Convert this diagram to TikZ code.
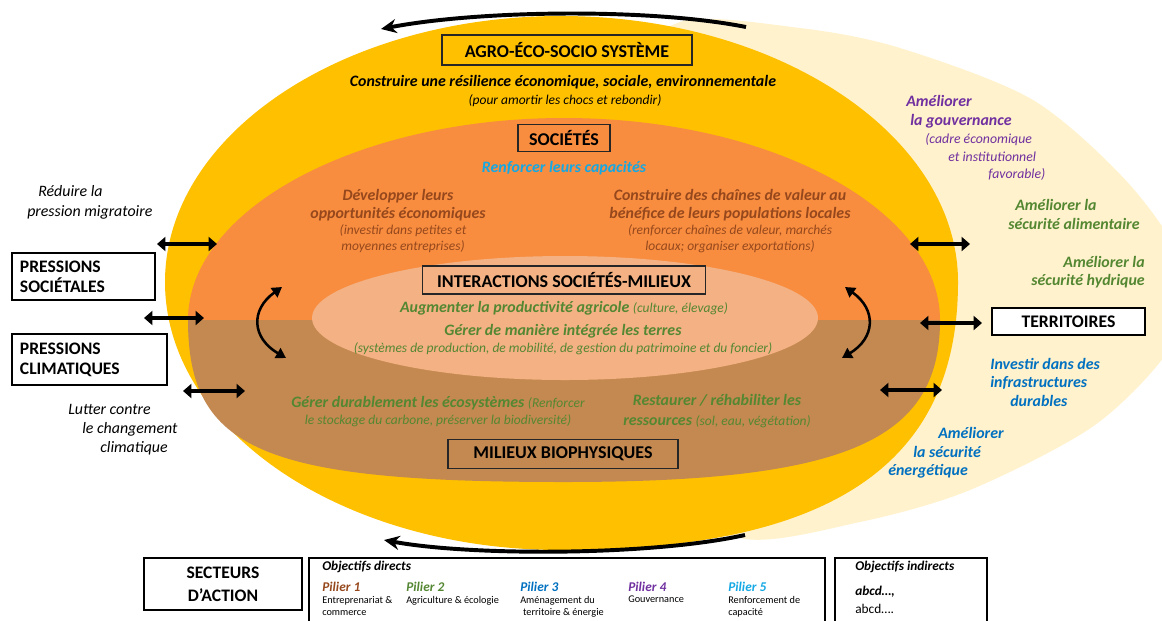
\documentclass[tikz,border=0pt]{standalone}
\usepackage{fontspec}
\setmainfont{Carlito}
\usetikzlibrary{arrows.meta}
\definecolor{agroyellow}{RGB}{255,192,0}
\definecolor{terrcream}{RGB}{255,242,204}
\definecolor{socorange}{RGB}{248,141,64}
\definecolor{milbrown}{RGB}{196,137,80}
\definecolor{interpeach}{RGB}{244,177,131}
\definecolor{txtbrown}{RGB}{150,72,28}
\definecolor{txtgreen}{RGB}{84,135,50}
\definecolor{txtpurple}{RGB}{112,48,160}
\definecolor{txtblue}{RGB}{0,112,192}
\definecolor{txtcyan}{RGB}{20,168,228}
\newcommand{\txtsize}[2]{\fontsize{#1}{#2}\selectfont}

\begin{document}
\begin{tikzpicture}[x=0.025cm, y=-0.025cm,
  box/.style={draw=black!85, line width=0.8pt, font=\txtsize{12.8}{14}\bfseries, inner sep=0pt},
  sidebox/.style={draw=black, fill=white, line width=0.9pt, font=\txtsize{12.5}{14.2}\bfseries, align=left, inner sep=0pt, inner xsep=0.2cm},
  bi/.style={font=\txtsize{11.3}{12}\bfseries\itshape},
  sm/.style={font=\txtsize{9.6}{11.4}\itshape},
  bil/.style={font=\txtsize{11.3}{12}\bfseries\itshape, anchor=west, inner sep=0pt},
  bir/.style={font=\txtsize{11.3}{12}\bfseries\itshape, anchor=east, inner sep=0pt},
  itl/.style={font=\txtsize{11.3}{12}\itshape, anchor=west, inner sep=0pt},
  sml/.style={font=\txtsize{9.8}{10}\itshape, anchor=west, inner sep=0pt},
  dbl/.style={line width=2.8pt, {Triangle[length=6pt,width=10pt]}-{Triangle[length=6pt,width=10pt]}},
  loop/.style={line width=2.8pt, -{Stealth[length=11pt,width=10pt]}},
  swap/.style={line width=1.8pt, {Triangle[length=7pt,width=8pt]}-{Triangle[length=7pt,width=8pt]}}]
\useasboundingbox (0,0) rectangle (1162,620);

% Territoires (background)
\fill[terrcream] plot[smooth cycle] coordinates {(680,22) (800,28) (900,48) (1033,100) (1130,185) (1185,270) (1172,345) (1095,425) (970,490) (860,522) (740,538) (650,470) (650,90)};

% Agro-eco-socio systeme
\fill[agroyellow] (561,16) .. controls (342,16) and (165,135) .. (165,282) .. controls (165,430) and (342,550) .. (561,550) .. controls (831,550) and (958,464) .. (958,282) .. controls (958,136) and (779,16) .. (561,16) -- cycle;

% Societes / milieux
\fill[socorange] (188,320) .. controls (188,210) and (356,118) .. (564,118) .. controls (772,118) and (940,210) .. (940,320) -- cycle;
\fill[milbrown] (188,320) .. controls (188,450) and (263,482) .. (564,482) .. controls (846,482) and (940,441) .. (940,320) -- cycle;

% Interactions
\fill[interpeach] (565,318) ellipse [x radius=253, y radius=62];

% Loop arrows
\coordinate (topR) at (746,27);
\coordinate (topL) at (381,29);
\draw[loop] (topR) .. controls (650,8) and (480,10) .. (topL);
\coordinate (botR) at (745,535);
\coordinate (botL) at (384,540);
\draw[loop] (botR) .. controls (650,556) and (470,556) .. (botL);

% Exchange arrows
\foreach \n/\xa/\xb/\yy in {a/157/217/244, b/144/204/318, c/183/245/391, d/910/970/244, e/920/982/323, f/880/942/390} {
  \coordinate (dl\n) at (\xa,\yy);
  \coordinate (dr\n) at (\xb,\yy);
  \draw[dbl] (dl\n) -- (dr\n);
}
\coordinate (lcA) at (282,287);
\coordinate (lcB) at (286,358);
\draw[swap] (lcA) .. controls (250,310) and (252,338) .. (lcB);
\coordinate (rcA) at (845,287);
\coordinate (rcB) at (842,358);
\draw[swap] (rcA) .. controls (877,310) and (875,338) .. (rcB);

% Labels - systeme
\node[box, minimum width=6.25cm, minimum height=0.75cm] (agro) at (567,50) {AGRO-ÉCO-SOCIO SYSTÈME};
\node[bi] (resil) at (563,82) {Construire une résilience économique, sociale, environnementale};
\node[sm] (amort) at (565,101) {(pour amortir les chocs et rebondir)};

% Labels - societes
\node[box, minimum width=2.3cm, minimum height=0.675cm] (soc) at (564,138) {SOCIÉTÉS};
\node[bi, text=txtcyan] (capac) at (564,168) {Renforcer leurs capacités};
\node[bi, text=txtbrown, align=center, font=\txtsize{11.3}{12.8}\bfseries\itshape] (devel) at (398,205) {Développer leurs\\opportunités économiques};
\node[sm, text=txtbrown, align=center] (develsub) at (403,239) {(investir dans petites et\\moyennes entreprises)};
\node[bi, text=txtbrown, align=center, font=\txtsize{11.3}{12.8}\bfseries\itshape] (chaine) at (730,205) {Construire des chaînes de valeur au\\bénéfice de leurs populations locales};
\node[sm, text=txtbrown, align=center] (chainesub) at (730,239) {(renforcer chaînes de valeur, marchés\\locaux; organiser exportations)};

% Labels - interactions
\node[box, minimum width=7.075cm, minimum height=0.7cm] (inter) at (564,280) {INTERACTIONS SOCIÉTÉS-MILIEUX};
\node[bi, text=txtgreen] (prod) at (564,308) {Augmenter la productivité agricole {\mdseries\txtsize{9.6}{10}(culture, élevage)}};
\node[bi, text=txtgreen] (terres) at (563,331) {Gérer de manière intégrée les terres};
\node[sm, text=txtgreen] (terressub) at (563,349) {(systèmes de production, de mobilité, de gestion du patrimoine et du foncier)};

% Labels - milieux
\node[bi, text=txtgreen, align=center, font=\txtsize{11.3}{12}\bfseries\itshape] (ecosys) at (438,412) {Gérer durablement les écosystèmes {\mdseries\txtsize{9.6}{12}(Renforcer}\\{\mdseries\txtsize{9.6}{12}le stockage du carbone, préserver la biodiversité)}};
\node[bi, text=txtgreen, align=center, font=\txtsize{11.3}{14.2}\bfseries\itshape] (restaur) at (717,411) {Restaurer / réhabiliter les\\ressources {\mdseries\txtsize{9.6}{14.2}(sol, eau, végétation)}};
\node[box, minimum width=5.75cm, minimum height=0.725cm] (milieux) at (563,454) {MILIEUX BIOPHYSIQUES};

% Pressions
\node[sidebox, text width=3.175cm, minimum height=1.175cm] (pressoc) at (83.5,276.5) {PRESSIONS\\SOCIÉTALES};
\node[sidebox, text width=3.475cm, minimum height=1.275cm] (pressclim) at (89.5,359.5) {PRESSIONS\\CLIMATIQUES};
\node[itl] (migrA) at (38,191) {Réduire la};
\node[itl] (migrB) at (27,212) {pression migratoire};
\node[itl] (lutA) at (68,409) {Lutter contre};
\node[itl] (lutB) at (82,429) {le changement};
\node[itl] (lutC) at (100,448) {climatique};

% Territoires
\node[bil, text=txtpurple] (gouvA) at (906,101) {Améliorer};
\node[bil, text=txtpurple] (gouvB) at (910,121) {la gouvernance};
\node[sml, text=txtpurple] (gouvC) at (925,140) {(cadre économique};
\node[sml, text=txtpurple] (gouvD) at (948,157) {et institutionnel};
\node[sml, text=txtpurple] (gouvE) at (988,174) {favorable)};
\node[bil, text=txtgreen] (alimA) at (1015,205) {Améliorer la};
\node[bil, text=txtgreen] (alimB) at (1008,224) {sécurité alimentaire};
\node[bir, text=txtgreen] (hydrA) at (1145,262) {Améliorer la};
\node[bir, text=txtgreen] (hydrB) at (1145,281) {sécurité hydrique};
\node[box, fill=white, draw=black, font=\txtsize{12.6}{14}\bfseries, minimum width=3.825cm, minimum height=0.675cm] (territ) at (1068.5,321.5) {TERRITOIRES};
\node[bil, text=txtblue] (infraA) at (990,364) {Investir dans des};
\node[bil, text=txtblue] (infraB) at (990,383) {infrastructures};
\node[bil, text=txtblue] (infraC) at (1010,401) {durables};
\node[bil, text=txtblue] (energA) at (938,433) {Améliorer};
\node[bil, text=txtblue] (energB) at (913,452) {la sécurité};
\node[bil, text=txtblue] (energC) at (888,471) {énergétique};

% Secteurs d'action
\node[box, fill=white, draw=black, line width=1.2pt, align=center, font=\txtsize{12.5}{16.4}\bfseries, minimum width=3.95cm, minimum height=1.3cm] (secteurs) at (223,584) {SECTEURS\\D’ACTION};
\draw[line width=1.4pt] (309,558) rectangle (825,640);
\node[anchor=west, inner sep=0pt, font=\txtsize{9.5}{10}\bfseries\itshape] (objdir) at (322,567) {Objectifs directs};
\foreach \k/\xx/\col/\desc in {1/322/txtbrown/{Entreprenariat \&\\commerce}, 2/406/txtgreen/{Agriculture \& écologie}, 3/520/txtblue/{Aménagement du\\\hspace*{2pt}territoire \& énergie}, 4/628/txtpurple/{Gouvernance}, 5/728/txtcyan/{Renforcement de\\capacité}} {
  \node[anchor=west, inner sep=0pt, text=\col, font=\txtsize{9.5}{10}\bfseries\itshape] (pil\k) at (\xx,587) {Pilier \k};
  \node[anchor=north west, inner sep=0pt, align=left, font=\txtsize{7.3}{8.5}] (pildesc\k) at (\xx,596) {\desc};
}
\draw[line width=1.4pt] (835,558) rectangle (987,640);
\node[anchor=west, inner sep=0pt, font=\txtsize{9.5}{10}\bfseries\itshape] (objind) at (855,567) {Objectifs indirects};
\node[anchor=west, inner sep=0pt, font=\txtsize{9.5}{10}\bfseries\itshape] (indA) at (855,592) {abcd…,};
\node[anchor=west, inner sep=0pt, font=\txtsize{9.5}{10}] (indB) at (855,609) {abcd….};
\end{tikzpicture}
\end{document}
